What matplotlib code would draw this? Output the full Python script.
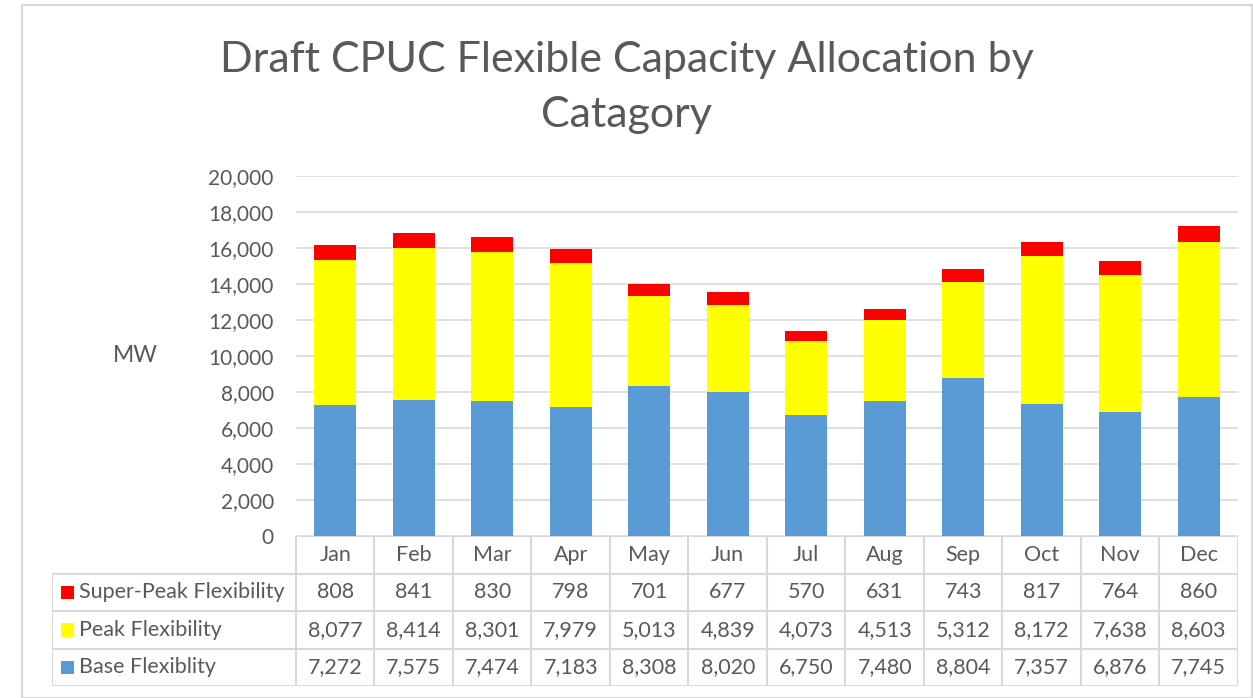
import numpy as np
import matplotlib.pyplot as plt
from matplotlib.patches import Rectangle

months = ["Jan", "Feb", "Mar", "Apr", "May", "Jun", "Jul", "Aug", "Sep", "Oct", "Nov", "Dec"]
base = [7272, 7575, 7474, 7183, 8308, 8020, 6750, 7480, 8804, 7357, 6876, 7745]
peak = [8077, 8414, 8301, 7979, 5013, 4839, 4073, 4513, 5312, 8172, 7638, 8603]
super_peak = [808, 841, 830, 798, 701, 677, 570, 631, 743, 817, 764, 860]

series_names = ["Super-Peak Flexibility", "Peak Flexibility", "Base Flexiblity"]
series_vals = [super_peak, peak, base]
colors = ["#ff0000", "#ffff00", "#5b9bd5"]

plt.rcParams['font.family'] = ['Lato', 'DejaVu Sans']
txt = "#595959"
grid_c = "#d9d9d9"

W, H = 1253, 698
fig = plt.figure(figsize=(W / 100, H / 100), dpi=100)

# chart border
fig.patches.append(Rectangle((22 / W, 0), (W - 23) / W, (H - 5) / H,
                             transform=fig.transFigure, fill=False,
                             edgecolor=grid_c, linewidth=1.5))

# main axes
x0, x1 = 296, 1238
y_top, y_bot = 176, 536
ax = fig.add_axes([x0 / W, (H - y_bot) / H, (x1 - x0) / W, (y_bot - y_top) / H])
x = np.arange(len(months))
ax.bar(x, base, width=0.54, color=colors[2], zorder=3)
ax.bar(x, peak, width=0.54, bottom=base, color=colors[1], zorder=3)
ax.bar(x, super_peak, width=0.54, bottom=np.array(base) + np.array(peak),
       color=colors[0], zorder=3)
ax.set_xlim(-0.5, 11.5)
ax.set_ylim(0, 20000)
ax.set_yticks(np.arange(0, 20001, 2000))
ax.set_yticklabels([f"{v:,}" for v in range(0, 20001, 2000)])
ax.yaxis.grid(True, color=grid_c, linewidth=1.2, zorder=0)
ax.set_xticks([])
for s in ax.spines.values():
    s.set_visible(False)
ax.tick_params(axis='y', length=0, labelsize=15, labelcolor=txt, pad=16)
fig.text(113 / W, 1 - 356 / H, "MW", fontsize=16.5, color=txt, ha='left', va='center')

# title, two lines
fig.text(0.5, 1 - 60 / H, "Draft CPUC Flexible Capacity Allocation by",
         ha='center', va='center', fontsize=31, color=txt)
fig.text(0.5, 1 - 115 / H, "Catagory", ha='center', va='center', fontsize=31, color=txt)

# data table
lab_left = 52
col_w = (x1 - x0) / 12
lab_w = (x0 - lab_left) / col_w
t_top, t_bot = 536, 686
tax = fig.add_axes([lab_left / W, (H - t_bot) / H, (x1 - lab_left) / W, (t_bot - t_top) / H])
tax.set_xlim(-0.5 - lab_w, 11.5)
tax.set_ylim(4, 0)
tax.axis('off')
lw = 1.5
# horizontal lines
tax.plot([-0.5, 11.5], [0, 0], color=grid_c, lw=lw)
for r in [1, 2, 3, 4]:
    tax.plot([-0.5 - lab_w, 11.5], [r, r], color=grid_c, lw=lw)
# vertical lines
tax.plot([-0.5 - lab_w, -0.5 - lab_w], [1, 4], color=grid_c, lw=lw)
for c in range(13):
    tax.plot([c - 0.5, c - 0.5], [0, 4], color=grid_c, lw=lw)
fs = 15.5
for i, m in enumerate(months):
    tax.text(i, 0.5, m, ha='center', va='center', fontsize=fs, color=txt)
for r, (name, vals, col) in enumerate(zip(series_names, series_vals, colors)):
    yy = r + 1.5
    tax.add_patch(Rectangle((-0.5 - lab_w + 0.11, yy - 0.18), 0.17, 0.36,
                            facecolor=col, edgecolor='none'))
    tax.text(-0.5 - lab_w + 0.35, yy, name, ha='left', va='center',
             fontsize=fs, color=txt)
    for i, v in enumerate(vals):
        tax.text(i, yy, f"{v:,}", ha='center', va='center', fontsize=fs, color=txt)

fig.savefig("out.png", dpi=100)
